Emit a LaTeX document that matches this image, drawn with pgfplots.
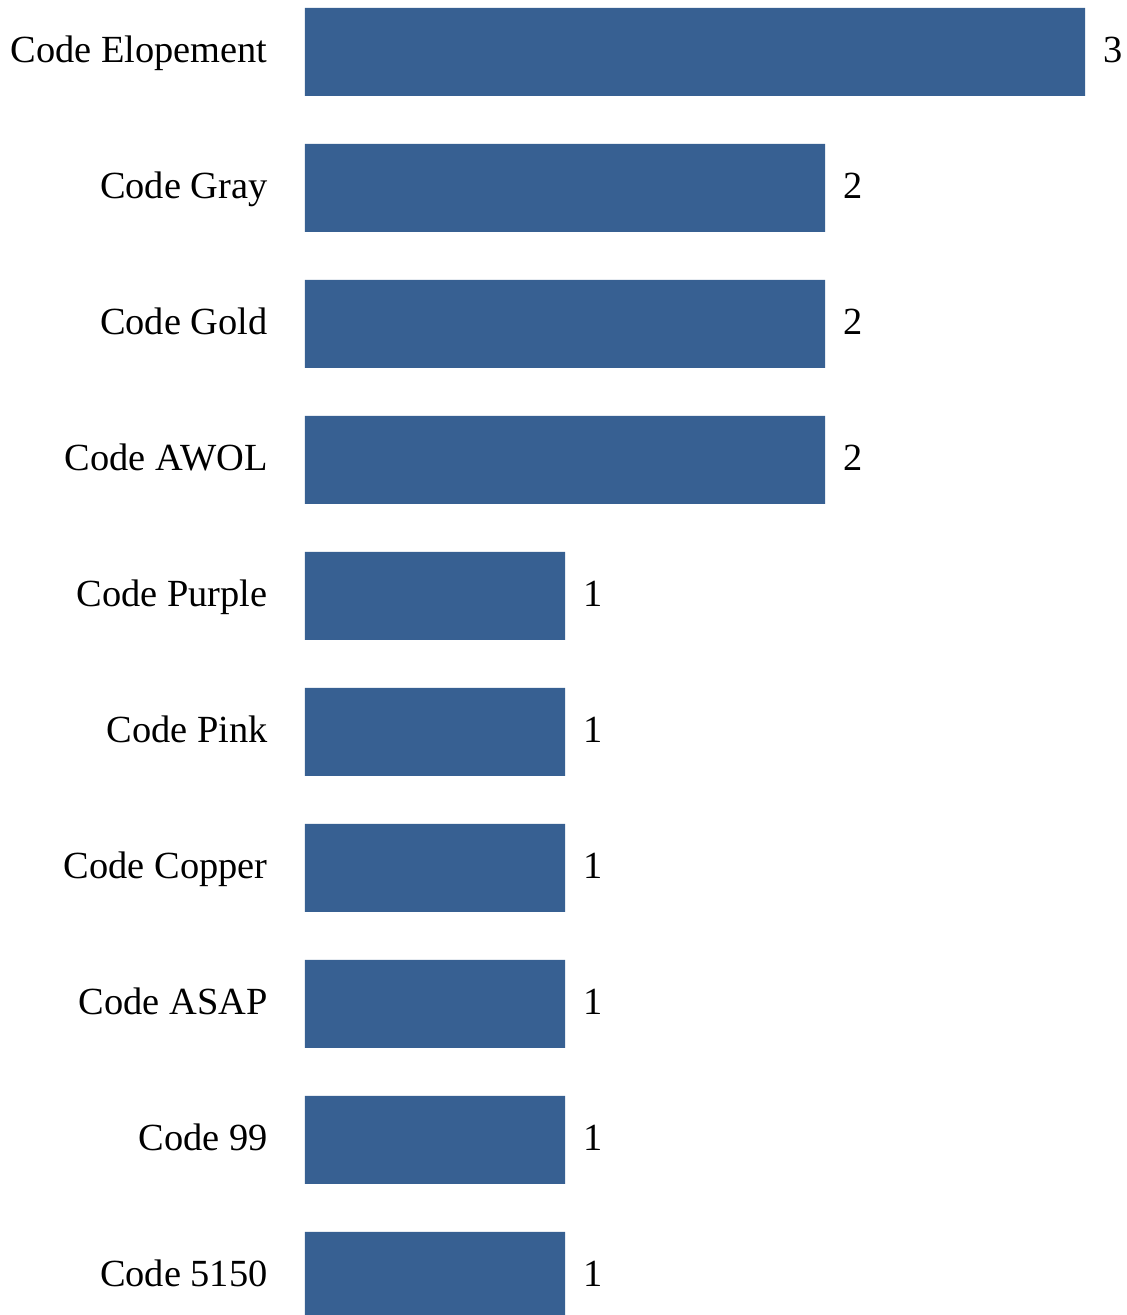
\documentclass[border=0pt]{standalone}
\usepackage{pgfplots}
\pgfplotsset{compat=1.18}
\usepackage{fontspec}
\setmainfont{Liberation Serif}
\definecolor{barblue}{RGB}{55,96,146}
\begin{document}
\begin{tikzpicture}
\begin{axis}[
  at={(0,0)}, anchor=south west,
  scale only axis,
  width=411pt, height=657.5pt,
  xbar, bar width=0.647,
  xmin=0, xmax=3.1615,
  ymin=-0.382, ymax=9.287,
  y dir=reverse,
  axis line style={draw=none},
  xtick=\empty,
  ytick={0,...,9},
  yticklabels={Code Elopement,Code Gray,Code Gold,Code AWOL,Code Purple,Code Pink,Code Copper,Code ASAP,Code 99,Code 5150},
  major tick length=0pt,
  /pgf/number format/assume math mode=true,
  yticklabel style={anchor=base east, inner sep=0pt, xshift=-18.5pt, yshift=-5.5pt, font=\fontsize{19.2pt}{22pt}\selectfont},
  nodes near coords,
  every node near coord/.append style={anchor=base west, inner sep=0pt, xshift=9pt, yshift=-5.5pt, font=\fontsize{19.2pt}{22pt}\selectfont, text=black},
  clip=true,
]
\addplot[fill=barblue, draw=none] coordinates {
(3,0) (2,1) (2,2) (2,3) (1,4) (1,5) (1,6) (1,7) (1,8) (1,9)
};
\end{axis}
\pgfresetboundingbox
\path (-152.5pt,0pt) rectangle (411pt,657.5pt);
\end{tikzpicture}
\end{document}
